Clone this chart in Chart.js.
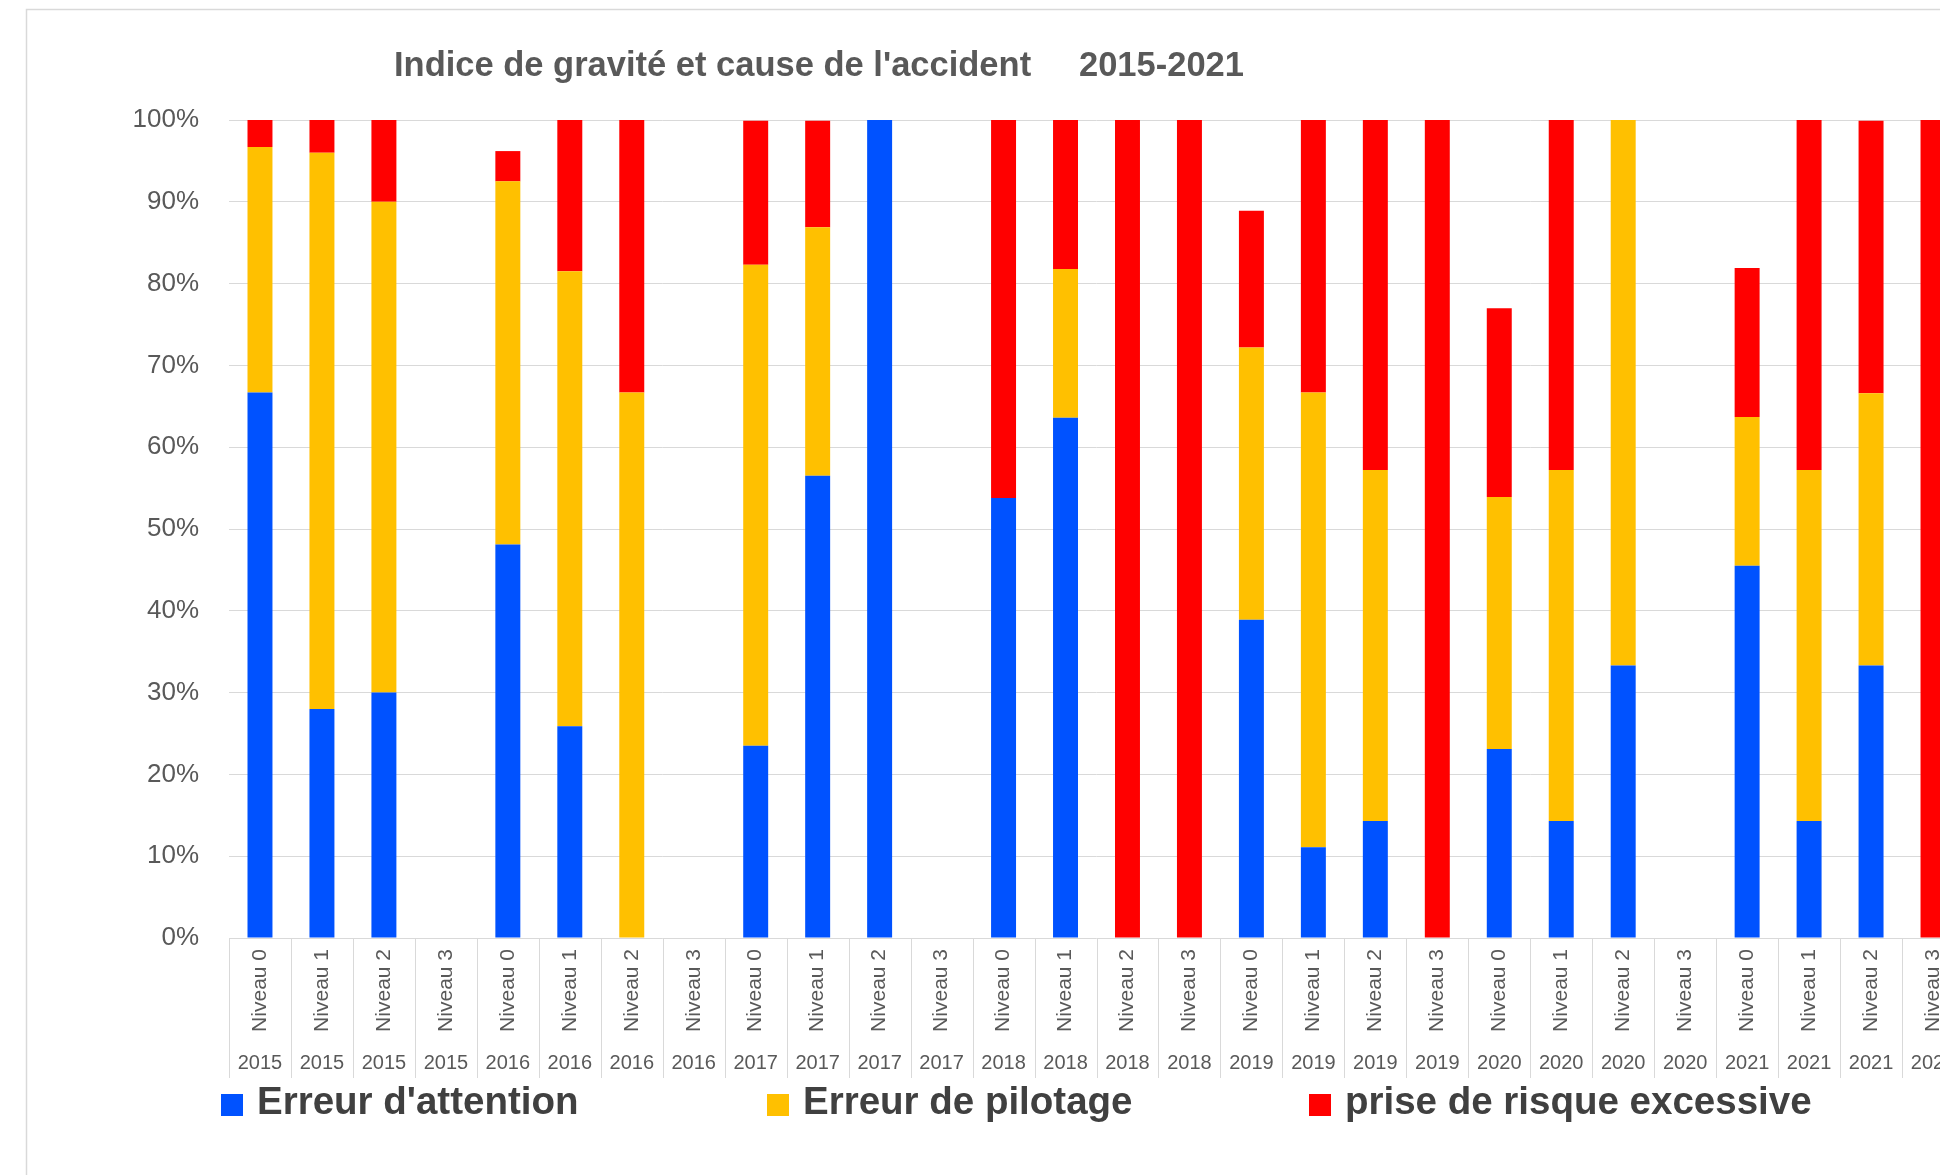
<!DOCTYPE html>
<html>
<head>
<meta charset="utf-8">
<script src="https://cdn.jsdelivr.net/npm/chart.js@4.4.1/dist/chart.umd.min.js"></script>
<style>
html,body{margin:0;padding:0;background:#fff;overflow:hidden;width:1940px;height:1175px;}
#wrap{position:absolute;left:0;top:0;width:2000px;height:1175px;}
</style>
</head>
<body>
<div id="wrap"><canvas id="c"></canvas></div>
<script>
// ---- data ----
const titleMain = "Indice de gravité et cause de l'accident";
const titleYears = "2015-2021";
const levels = [
  'Niveau 0','Niveau 1','Niveau 2','Niveau 3',
  'Niveau 0','Niveau 1','Niveau 2','Niveau 3',
  'Niveau 0','Niveau 1','Niveau 2','Niveau 3',
  'Niveau 0','Niveau 1','Niveau 2','Niveau 3',
  'Niveau 0','Niveau 1','Niveau 2','Niveau 3',
  'Niveau 0','Niveau 1','Niveau 2','Niveau 3',
  'Niveau 0','Niveau 1','Niveau 2','Niveau 3'
];
const years = [
  '2015','2015','2015','2015',
  '2016','2016','2016','2016',
  '2017','2017','2017','2017',
  '2018','2018','2018','2018',
  '2019','2019','2019','2019',
  '2020','2020','2020','2020',
  '2021','2021','2021','2021'
];
const seriesNames = ["Erreur d'attention", "Erreur de pilotage", "prise de risque excessive"];
const attention = [66.7, 28.0, 30.0, null, 48.1, 25.9, 0, null, 23.5, 56.5, 100, null, 53.8, 63.6, 0, 0, 38.9, 11.1, 14.3, 0, 23.1, 14.3, 33.3, null, 45.5, 14.3, 33.3, 0];
const pilotage  = [30.0, 68.0, 60.0, null, 44.4, 55.6, 66.7, null, 58.8, 30.4, 0, null, 0, 18.2, 0, 0, 33.3, 55.6, 42.9, 0, 30.8, 42.9, 66.7, null, 18.2, 42.9, 33.3, 0];
const risque    = [3.3, 4.0, 10.0, null, 3.7, 18.5, 33.3, null, 17.6, 13.0, 0, null, 46.2, 18.2, 100, 100, 16.7, 33.3, 42.9, 100, 23.1, 42.9, 0, null, 18.2, 42.9, 33.3, 100];
const seriesColors = ['#0052FF', '#FFC000', '#FF0000'];

Chart.defaults.font.family = "'Liberation Sans', Arial, sans-serif";

const decor = {
  id: 'decor',
  beforeDraw(chart) {
    const ctx = chart.ctx;
    ctx.save();
    ctx.fillStyle = '#ffffff';
    ctx.fillRect(0, 0, chart.width, chart.height);
    ctx.strokeStyle = '#d9d9d9';
    ctx.lineWidth = 1.5;
    ctx.strokeRect(26.5, 9.5, chart.width + 50, chart.height + 50);
    ctx.restore();
  },
  afterDraw(chart) {
    const ctx = chart.ctx;
    const x = chart.scales.x, x2 = chart.scales.x2;
    ctx.save();
    // category separators below the axis
    ctx.strokeStyle = '#d9d9d9';
    ctx.lineWidth = 1;
    const half = (x.getPixelForValue(1) - x.getPixelForValue(0)) / 2;
    ctx.beginPath();
    for (let i = 0; i <= levels.length; i++) {
      const px = Math.round(x.getPixelForValue(i) - half) + 0.5;
      ctx.moveTo(px, chart.chartArea.bottom);
      ctx.lineTo(px, x2.bottom);
    }
    ctx.stroke();
    // title
    ctx.fillStyle = '#595959';
    ctx.font = "bold 34.5px 'Liberation Sans', Arial, sans-serif";
    ctx.textBaseline = 'alphabetic';
    ctx.textAlign = 'left';
    ctx.fillText(titleMain, 394, 76);
    ctx.fillText(titleYears, 1079, 76);
    // legend
    const starts = [221, 767, 1309];
    ctx.font = "bold 38.5px 'Liberation Sans', Arial, sans-serif";
    ctx.textBaseline = 'middle';
    chart.data.datasets.forEach((ds, i) => {
      ctx.fillStyle = ds.backgroundColor;
      ctx.fillRect(starts[i], 1094, 22, 22);
      ctx.fillStyle = '#404040';
      ctx.fillText(ds.label, starts[i] + 36, 1103);
    });
    ctx.restore();
  }
};

new Chart(document.getElementById('c'), {
  type: 'bar',
  data: {
    labels: levels,
    datasets: [
      { label: seriesNames[0], data: attention, backgroundColor: seriesColors[0] },
      { label: seriesNames[1], data: pilotage,  backgroundColor: seriesColors[1] },
      { label: seriesNames[2], data: risque,    backgroundColor: seriesColors[2] }
    ]
  },
  options: {
    responsive: true,
    maintainAspectRatio: false,
    devicePixelRatio: 1,
    animation: false,
    datasets: { bar: { barPercentage: 0.403, categoryPercentage: 1.0, borderWidth: 0 } },
    layout: { padding: { left: 0, top: 120, right: 36, bottom: 97 } },
    plugins: {
      legend: { display: false },
      title: { display: false },
      tooltip: { enabled: false }
    },
    scales: {
      x: {
        type: 'category',
        stacked: true,
        position: 'bottom',
        weight: 0,
        grid: { display: false },
        border: { display: false },
        ticks: {
          autoSkip: false, minRotation: 90, maxRotation: 90,
          padding: 3, color: '#595959', font: { size: 21 }
        },
        afterFit(s) { s.height = 97; }
      },
      x2: {
        type: 'category',
        labels: years,
        offset: true,
        position: 'bottom',
        weight: 1,
        grid: { display: false },
        border: { display: false },
        ticks: {
          autoSkip: false, minRotation: 0, maxRotation: 0,
          padding: 8, color: '#595959', font: { size: 20 }
        },
        afterFit(s) { s.height = 43; }
      },
      y: {
        stacked: true,
        min: 0, max: 100,
        grid: { color: '#d9d9d9', lineWidth: 1, drawTicks: false },
        border: { display: false },
        ticks: {
          stepSize: 10, padding: 30, color: '#595959', font: { size: 26 },
          callback: v => v + '%'
        },
        afterFit(s) { s.width = 229; }
      }
    }
  },
  plugins: [decor]
});
</script>
</body>
</html>
